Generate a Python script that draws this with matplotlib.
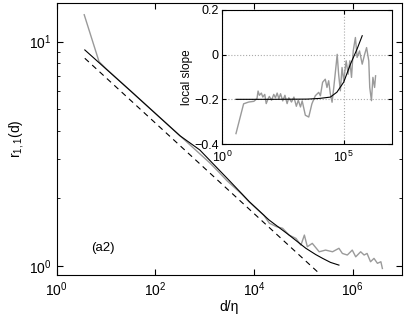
import matplotlib
matplotlib.use('Agg')
import numpy as np
import matplotlib.pyplot as plt
from matplotlib.ticker import LogLocator, NullLocator, FixedLocator

plt.rcParams['font.family'] = ['Liberation Sans', 'DejaVu Sans']
plt.rcParams['mathtext.default'] = 'regular'

# main panel: measured r_{1,1}(d) (gray), fit (black), power law (dashed)
data_logd = [0.56, 0.86, 1.0, 1.3, 1.6, 2.0, 2.4, 2.8, 3.1, 3.3, 3.45, 3.6, 3.75,
             3.9, 4.0, 4.1, 4.2, 4.31, 4.45, 4.58, 4.71, 4.85, 4.95, 5.02, 5.08,
             5.18, 5.32, 5.45, 5.59, 5.72, 5.79, 5.89, 5.99, 6.06, 6.16, 6.23,
             6.29, 6.36, 6.43, 6.5, 6.57, 6.6]
data_logr = [1.12, 0.911, 0.88, 0.82, 0.76, 0.68, 0.60, 0.52, 0.46, 0.415, 0.38,
             0.35, 0.32, 0.285, 0.265, 0.245, 0.225, 0.19, 0.175, 0.167, 0.137,
             0.122, 0.092, 0.137, 0.085, 0.10, 0.0625, 0.07, 0.0625, 0.078, 0.055,
             0.048, 0.07, 0.04, 0.0625, 0.048, 0.055, 0.018, 0.033, 0.011, 0.018,
             -0.012]

fit_logd = [0.572, 1.5, 2.5, 2.9, 3.5, 3.905, 4.3, 4.71, 5.05, 5.25, 5.39, 5.55, 5.72]
fit_logr = [0.963, 0.78, 0.58, 0.517, 0.38, 0.286, 0.205, 0.137, 0.078, 0.05,
            0.033, 0.015, 0.003]

pow_d = [3.73, 1.93e5]
pow_r = [8.43, 0.94]

# inset: local slope
slope_logd = [0.566, 0.88, 1.09, 1.30, 1.43, 1.475, 1.53, 1.61, 1.67, 1.75, 1.81,
              1.89, 1.94, 2.03, 2.12, 2.19, 2.26, 2.33, 2.40, 2.49, 2.58, 2.67,
              2.74, 2.85, 2.95, 3.05, 3.13, 3.22, 3.29, 3.42, 3.56, 3.69,
              3.83, 3.97, 4.04, 4.13, 4.24, 4.31, 4.38, 4.45, 4.52, 4.59, 4.69,
              4.73, 4.79, 4.86, 4.93, 5.0, 5.1, 5.18, 5.25, 5.32, 5.39, 5.48,
              5.55, 5.65, 5.76, 5.86, 5.94, 6.03, 6.07, 6.14, 6.2, 6.27, 6.31]
slope_val = [-0.353, -0.22, -0.212, -0.209, -0.197, -0.163, -0.182, -0.172, -0.19,
             -0.178, -0.219, -0.197, -0.187, -0.204, -0.178, -0.193, -0.172,
             -0.197, -0.175, -0.207, -0.182, -0.219, -0.193, -0.212, -0.19,
             -0.231, -0.204, -0.234, -0.207, -0.271, -0.279, -0.22,
             -0.184, -0.169, -0.184, -0.124, -0.110, -0.147, -0.117, -0.176,
             -0.213, -0.147, -0.043, 0.001, -0.088, -0.162, -0.058, -0.117,
             -0.028, -0.088, -0.028, -0.102, 0.016, 0.076, -0.013, 0.016,
             -0.043, 0.001, 0.031, -0.028, -0.147, -0.206, -0.102, -0.147, -0.095]

fitslope_logd = [0.566, 2.0, 3.5, 4.0, 4.45, 4.72, 5.0, 5.28, 5.55, 5.76]
fitslope_val = [-0.2, -0.2, -0.199, -0.196, -0.19, -0.168, -0.123, -0.042, 0.025, 0.084]

gray = '#9a9a9a'

fig = plt.figure(figsize=(4.07, 3.14), dpi=100)
ax = fig.add_axes([0.139, 0.124, 0.849, 0.867])

ax.loglog(10 ** np.array(data_logd), 10 ** np.array(data_logr), color=gray, lw=1.0)
ax.loglog(10 ** np.array(fit_logd), 10 ** np.array(fit_logr), color='black', lw=0.8)
ax.loglog(pow_d, pow_r, color='black', lw=0.8, ls=(0, (5, 4)))
ax.set_xlim(1, 1e7)
ax.set_ylim(0.909, 14.9)
ax.xaxis.set_major_locator(FixedLocator([1, 1e2, 1e4, 1e6]))
ax.xaxis.set_minor_locator(NullLocator())
ax.yaxis.set_major_locator(FixedLocator([1, 10]))
ax.yaxis.set_minor_locator(LogLocator(base=10, subs=np.arange(2, 10)))
ax.tick_params(which='both', direction='in', top=True, right=True, labelsize=10)
ax.tick_params(which='major', length=4)
ax.tick_params(which='minor', length=2.5)
ax.set_xlabel('d/\u03b7', fontsize=10, labelpad=1)
ax.set_ylabel('r$_{1,1}$(d)', fontsize=10, labelpad=2)
ax.text(5.1, 1.2, '(a2)', fontsize=9.5, ha='left', va='center')

ins = fig.add_axes([0.546, 0.541, 0.418, 0.428])
ins.semilogx(10 ** np.array(slope_logd), slope_val, color=gray, lw=1.0)
ins.semilogx(10 ** np.array(fitslope_logd), fitslope_val, color='black', lw=0.8)
ins.set_xlim(1, 1e7)
ins.set_ylim(-0.4, 0.2)
ins.xaxis.set_major_locator(FixedLocator([1, 1e5]))
ins.xaxis.set_minor_locator(NullLocator())
ins.set_yticks([-0.4, -0.2, 0, 0.2])
ins.set_yticklabels(['\u22120.4', '\u22120.2', '0', '0.2'])
ins.grid(True, ls=':', color='#aaaaaa', lw=0.8)
ins.tick_params(direction='in', top=True, right=True, labelsize=9, length=3)
ins.tick_params(axis='x', pad=4)
ins.tick_params(axis='y', pad=2.5)
ins.set_ylabel('local slope', fontsize=8.5, labelpad=1)

fig.savefig('out.png', dpi=100)
